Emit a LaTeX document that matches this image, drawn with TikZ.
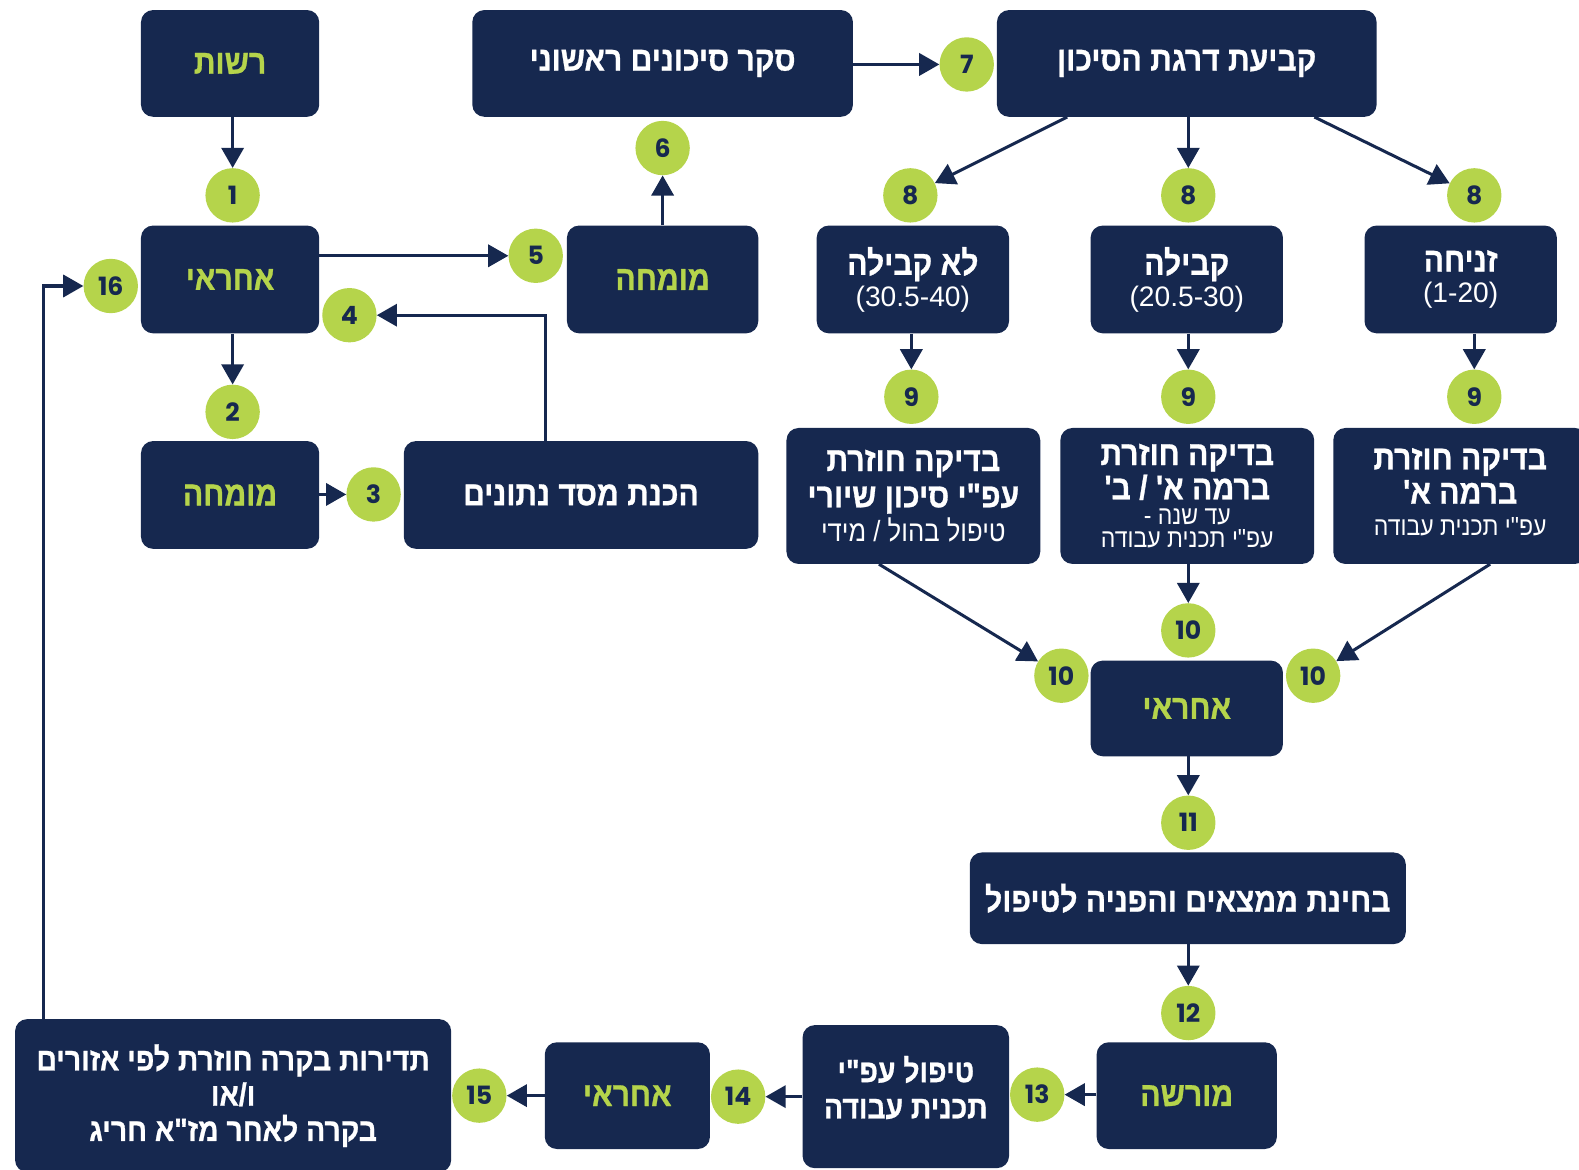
\documentclass[tikz,border=0pt]{standalone}
\usepackage{fontspec}
\usetikzlibrary{arrows.meta}
\TeXXeTstate=1
\newfontfamily\hebfont[Script=Hebrew, FakeStretch=0.88, BoldFeatures={FakeBold=0.8}]{Liberation Sans}
\newfontfamily\digfont{Liberation Sans}
\newfontfamily\numfont{Poppins}
\definecolor{navy}{RGB}{22,40,79}
\definecolor{lgreen}{RGB}{181,212,75}
\newcommand\hreg[2]{{\mdseries\fontsize{#1}{#1}\selectfont #2}}
\newcommand\dreg[1]{{\digfont\mdseries\fontsize{28}{28}\selectfont #1}}
\tikzset{
  box/.style={fill=navy, rounded corners=12pt, inner sep=0pt, align=center, text=white,
    font=\hebfont\bfseries\fontsize{34}{36}\selectfont},
  gbox/.style={box, text=lgreen},
  num/.style={circle, fill=lgreen, minimum size=54pt, inner sep=0pt, text=navy, font=\numfont\bfseries\fontsize{25}{25}\selectfont},
  conn/.style={draw=navy, line width=3pt, -{Triangle[length=20pt,width=22pt]}},
}
\begin{document}
\begin{tikzpicture}[x=1pt,y=-1pt]
\useasboundingbox (0,0) rectangle (1568,1161);
% boxes
\node[gbox, minimum width=177pt, minimum height=106pt] (rshut) at (228.5,63) {\beginR רשות\endR};
\node[gbox, minimum width=177pt, minimum height=107pt] (a1) at (228.5,277.5) {\beginR אחראי\endR};
\node[gbox, minimum width=177pt, minimum height=107pt] (m1) at (228.5,491.5) {\beginR מומחה\endR};
\node[box, minimum width=352pt, minimum height=107pt] (db) at (577,491.5) {\beginR הכנת מסד נתונים\endR};
\node[gbox, minimum width=190pt, minimum height=107pt] (m2) at (658,277.5) {\beginR מומחה\endR};
\node[box, minimum width=378pt, minimum height=106pt] (seker) at (658,63) {\beginR סקר סיכונים ראשוני\endR};
\node[box, minimum width=377pt, minimum height=106pt] (kvia) at (1178.5,63) {\beginR קביעת דרגת הסיכון\endR};
\node[box, minimum width=191pt, minimum height=107pt] (lo) at (906.5,277.5) {\beginR לא קבילה\endR\\[-5pt]\dreg{(30.5-40)}};
\node[box, minimum width=191pt, minimum height=107pt] (kav) at (1178.5,277.5) {\beginR קבילה\endR\\[-5pt]\dreg{(20.5-30)}};
\node[box, minimum width=191pt, minimum height=107pt] (zn) at (1450.5,277.5) {\beginR זניחה\endR\\[-5pt]\dreg{(1-20)}};
\node[box, minimum width=252pt, minimum height=135pt] (b1) at (907,492.5) {\beginR בדיקה חוזרת\endR\\\beginR עפ"י סיכון שיורי\endR\\[-2pt]\hreg{29}{\beginR טיפול בהול / מידי\endR}};
\node[box, minimum width=252pt, minimum height=135pt] (b2) at (1179,492.5) {\beginR בדיקה חוזרת\endR\\[-2pt]\beginR ברמה א' / ב'\endR\\[-11pt]\hreg{26}{\beginR עד שנה -\endR}\\[-13pt]\hreg{26}{\beginR עפ"י תכנית עבודה\endR}};
\node[box, minimum width=252pt, minimum height=135pt] (b3) at (1450,492.5) {\beginR בדיקה חוזרת\endR\\[-2pt]\beginR ברמה א'\endR\\[-4pt]\hreg{26}{\beginR עפ"י תכנית עבודה\endR}\\[-36pt]\hreg{26}{\strut}};
\node[gbox, minimum width=191pt, minimum height=95pt] (a2) at (1178.5,703.5) {\beginR אחראי\endR};
\node[box, minimum width=433pt, minimum height=91pt] (bh) at (1179.5,892) {\beginR בחינת ממצאים והפניה לטיפול\endR};
\node[gbox, minimum width=179pt, minimum height=106pt] (mor) at (1178.5,1088) {\beginR מורשה\endR};
\node[box, minimum width=205pt, minimum height=142pt, font=\hebfont\bfseries\fontsize{32}{36}\selectfont] (tip) at (899.5,1089) {\beginR טיפול עפ"י\endR\\\beginR תכנית עבודה\endR\\[-28pt]\strut};
\node[gbox, minimum width=164pt, minimum height=106pt] (a3) at (623,1088) {\beginR אחראי\endR};
\node[box, minimum width=433pt, minimum height=152pt, font=\hebfont\bfseries\fontsize{32}{35}\selectfont] (td) at (231.5,1088) {\beginR תדירות בקרה חוזרת לפי אזורים\endR\\\beginR ו/או\endR\\\beginR בקרה לאחר מז"א חריג\endR};
% circles
\node[num] (c1) at (231,194) {1};
\node[num] (c2) at (231,409) {2};
\node[num] (c3) at (371,491) {3};
\node[num] (c4) at (347,313) {4};
\node[num] (c5) at (532,254) {5};
\node[num] (c6) at (658,147) {6};
\node[num] (c7) at (960,64) {7};
\node[num] (c8a) at (904,194) {8};
\node[num] (c8b) at (1180,194) {8};
\node[num] (c8c) at (1464,194) {8};
\node[num] (c9a) at (905,394) {9};
\node[num] (c9b) at (1180,394) {9};
\node[num] (c9c) at (1464,394) {9};
\node[num] (c10b) at (1180,626) {10};
\node[num] (c10a) at (1054,671) {10};
\node[num] (c10c) at (1304,671) {10};
\node[num] (c11) at (1180,817) {11};
\node[num] (c12) at (1180,1006) {12};
\node[num] (c13) at (1030,1087) {13};
\node[num] (c14) at (733,1089) {14};
\node[num] (c15) at (476,1088) {15};
\node[num] (c16) at (110,284) {16};
% connectors
\draw[conn] (rshut.south -| c1) -- (c1);
\draw[conn] (a1.south -| c2) -- (c2);
\draw[conn] (m1.east |- c3) -- (c3);
\draw[conn] ([xshift=141pt]db.north west) |- (c4);
\draw[conn] (a1.east |- c5) -- (c5);
\draw[conn] (m2.north) -- (c6);
\draw[conn] (seker.east |- c7) -- (c7);
\draw[conn] ([xshift=70pt]kvia.south west) -- (c8a);
\draw[conn] (kvia.south -| c8b) -- (c8b);
\draw[conn] ([xshift=-62pt]kvia.south east) -- (c8c);
\draw[conn] (lo.south -| c9a) -- (c9a);
\draw[conn] (kav.south -| c9b) -- (c9b);
\draw[conn] (zn.south -| c9c) -- (c9c);
\draw[conn] ([xshift=92pt]b1.south west) -- (c10a);
\draw[conn] (b2.south -| c10b) -- (c10b);
\draw[conn] ([xshift=156pt]b3.south west) -- (c10c);
\draw[conn] (a2.south -| c11) -- (c11);
\draw[conn] (bh.south -| c12) -- (c12);
\draw[conn] (mor.west |- c13) -- (c13);
\draw[conn] (tip.west |- c14) -- (c14);
\draw[conn] (a3.west |- c15) -- (c15);
\draw[conn] ([xshift=28pt]td.north west) |- (c16);
\end{tikzpicture}
\end{document}
